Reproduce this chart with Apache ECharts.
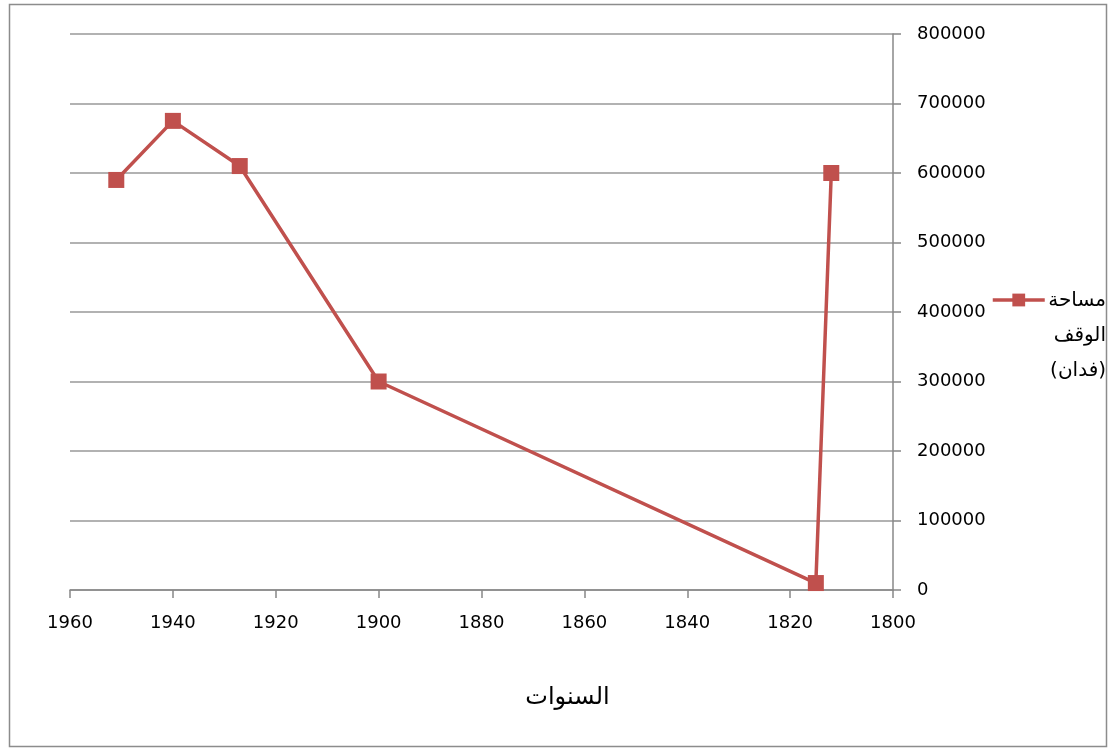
<!DOCTYPE html>
<html><head><meta charset="utf-8">
<script src="https://cdn.jsdelivr.net/npm/echarts@6/dist/echarts.min.js"></script>
<style>html,body{margin:0;padding:0;background:#fff}#c{width:1110px;height:751px}</style>
</head><body><div id="c"></div>
<script>
const years = [1951, 1940, 1927, 1900, 1815, 1812];
const areas = [590000, 675000, 610000, 300000, 10000, 600000];
const seriesName = 'مساحة الوقف (فدان)';
const seriesLabelLines = ['مساحة', 'الوقف', '(فدان)'];
const xTitle = 'السنوات';
const xMin = 1800, xMax = 1960, xStep = 20;
const yMin = 0, yMax = 800000, yStep = 100000;

const chart = echarts.init(document.getElementById('c'), null, {renderer: 'canvas'});
const font = 'DejaVu Sans';
chart.setOption({
  animation: false,
  graphic: [
    {type: 'rect', shape: {x: 9.5, y: 4.5, width: 1097, height: 742}, style: {fill: 'none', stroke: '#8c8c8c', lineWidth: 1.5}},
    {type: 'text', x: 1106, y: 283, style: {text: seriesLabelLines.join('\n'), font: '20px "DejaVu Sans"', fill: '#000', align: 'right', verticalAlign: 'top', lineHeight: 35}}
  ],
  grid: {left: 70, right: 217, top: 34, bottom: 161},
  legend: {
    left: 991, top: 292, itemWidth: 52, itemHeight: 16, itemGap: 0, padding: 0,
    data: [seriesName],
    formatter: () => '',
    textStyle: {fontSize: 1},
    lineStyle: {width: 3.5, color: '#c0504d'}
  },
  xAxis: {
    type: 'value', inverse: true, min: xMin, max: xMax, interval: xStep,
    name: xTitle, nameLocation: 'middle', nameGap: 96,
    nameTextStyle: {fontFamily: font, fontSize: 24, color: '#000', padding: [0, 0, 0, 172]},
    axisLine: {show: true, onZero: false, lineStyle: {color: '#888', width: 1.5}},
    axisTick: {show: true, length: 8, lineStyle: {color: '#888', width: 1.5}},
    axisLabel: {fontFamily: font, fontSize: 18, color: '#000', margin: 24, formatter: v => String(v)},
    splitLine: {show: false}
  },
  yAxis: {
    type: 'value', position: 'right', min: yMin, max: yMax, interval: yStep,
    axisLine: {show: true, lineStyle: {color: '#888', width: 1.5}},
    axisTick: {show: true, length: 8, lineStyle: {color: '#888', width: 1.5}},
    axisLabel: {fontFamily: font, fontSize: 18, color: '#000', margin: 24, formatter: v => String(v)},
    splitLine: {show: true, lineStyle: {color: '#999', width: 1.5}}
  },
  series: [{
    name: seriesName, type: 'line',
    data: years.map((y, i) => [y, areas[i]]),
    symbol: 'rect', symbolSize: 16,
    lineStyle: {color: '#c0504d', width: 3.5},
    itemStyle: {color: '#c0504d', borderWidth: 0}
  }]
});
</script></body></html>
